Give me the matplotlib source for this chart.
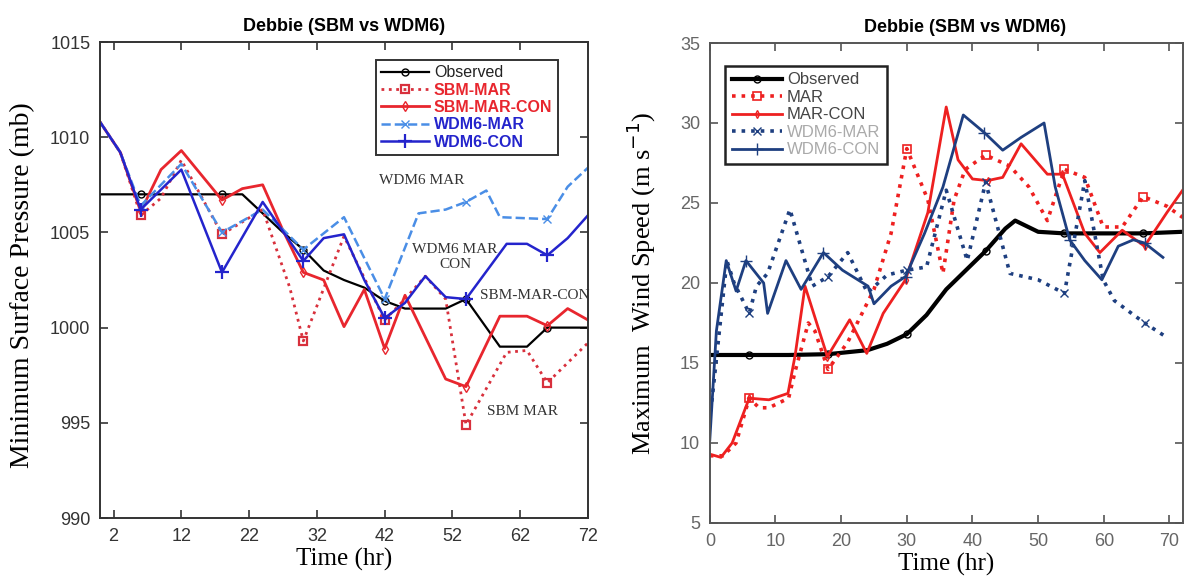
import numpy as np
import matplotlib
matplotlib.use('Agg')
import matplotlib.pyplot as plt

# ---- left panel: minimum surface pressure (mb) ----
obs_t = [0, 6, 12, 18, 21, 24, 27, 30, 33, 36, 39, 42, 45, 48, 51, 54, 59, 63, 66, 72]
obs_p = [1007, 1007, 1007, 1007, 1007, 1006, 1005, 1004.1, 1003, 1002.5, 1002.1, 1001.4,
         1001, 1001, 1001, 1001.5, 999, 999, 1000, 1000]

sbm_mar_t = [0, 3, 6, 9, 12, 18, 24, 28, 30, 36, 42, 45, 48, 51, 54, 60, 63, 66, 72]
sbm_mar_p = [1010.8, 1009.2, 1005.9, 1006.8, 1008.8, 1004.9, 1006.2, 1002.1, 999.3, 1004.8,
             1000.4, 1001.5, 1002.7, 1001.5, 994.9, 998.7, 998.8, 997.1, 999.2]

sbm_con_t = [0, 3, 6, 9, 12, 18, 21, 24, 27, 30, 33, 36, 39, 42, 45, 51, 54, 59, 63, 66, 69, 72]
sbm_con_p = [1010.8, 1009.2, 1006.1, 1008.3, 1009.3, 1006.7, 1007.3, 1007.5, 1005.1, 1002.9,
             1002.5, 1000.05, 1002.0, 998.9, 1001.7, 997.3, 996.9, 1000.6, 1000.6, 1000.1,
             1001.0, 1000.4]

wdm_mar_t = [0, 3, 6, 12, 18, 24, 30, 36, 42, 47, 51, 54, 57, 59, 66, 69, 72]
wdm_mar_p = [1010.8, 1009.2, 1006.4, 1008.6, 1005.0, 1006.2, 1004.1, 1005.8, 1001.5, 1006.0,
             1006.2, 1006.6, 1007.2, 1005.8, 1005.7, 1007.4, 1008.4]

wdm_con_t = [0, 3, 6, 12, 18, 24, 30, 33, 36, 39, 42, 45, 48, 51, 54, 60, 63, 66, 69, 72]
wdm_con_p = [1010.8, 1009.2, 1006.2, 1008.3, 1002.9, 1006.6, 1003.5, 1004.7, 1004.9, 1002.5,
             1000.5, 1001.3, 1002.7, 1001.6, 1001.5, 1004.4, 1004.4, 1003.8, 1004.7, 1005.9]

left_xticks = [2, 12, 22, 32, 42, 52, 62, 72]
left_yticks = [990, 995, 1000, 1005, 1010, 1015]

# ---- right panel: maximum wind speed (m/s) ----
wobs_t = [0, 6, 12, 18, 24, 27, 30, 33, 36, 39, 42, 45, 46.5, 48, 50, 54, 60, 66, 72]
wobs_v = [15.5, 15.5, 15.5, 15.55, 15.8, 16.2, 16.8, 18.0, 19.6, 20.8, 22.0, 23.4, 23.9,
          23.6, 23.2, 23.1, 23.1, 23.1, 23.2]

mar_t = [0, 2, 4, 6, 7.5, 9, 12, 13, 15, 16, 18, 21, 25, 27.6, 30, 33.2, 35.5, 37.2, 38.9,
         42, 45.7, 48.6, 51.4, 54, 57.1, 59.9, 62.8, 66, 69.6, 72]
mar_v = [9.2, 9.2, 10, 12.8, 12.2, 12.2, 12.8, 14.5, 17.5, 17.0, 14.6, 16.3, 19.6, 23.1,
         28.4, 25.2, 20.6, 25.2, 27.1, 28.0, 27.3, 26.0, 23.9, 27.1, 26.6, 23.5, 23.5, 25.4,
         24.8, 24.1]

marcon_t = [0, 1.7, 3.4, 6, 9, 11.9, 13, 14.5, 17.9, 21.3, 23.9, 26.4, 29.8, 33.2, 36, 37.8,
            40, 42.3, 44.6, 47.4, 51.4, 53.7, 57.1, 59.4, 62.8, 66.2, 69.6, 72]
marcon_v = [9.3, 9.1, 10, 12.8, 12.7, 13.1, 15.5, 19.8, 15.4, 17.7, 15.6, 18.1, 20.2, 24.4,
            31.0, 27.7, 26.5, 26.4, 26.6, 28.7, 26.8, 26.8, 23.1, 21.9, 23.3, 22.3, 24.4, 25.8]

wmar_t = [0, 2.6, 3.7, 6, 7.1, 8.8, 12.2, 15.6, 18, 21, 24, 27, 30, 33, 36, 39.2, 42, 45.7,
          50, 54, 57.1, 59.9, 61.6, 66.2, 69.6]
wmar_v = [11.4, 21.4, 20, 18.1, 19.8, 20.6, 24.6, 19.8, 20.4, 21.9, 19.4, 20.5, 20.8, 21,
          25.8, 21.4, 26.3, 20.6, 20.2, 19.35, 26.4, 20.2, 18.9, 17.5, 16.6]

wcon_t = [0, 1, 2.5, 4, 5.5, 8.2, 8.8, 11.6, 13.9, 17.3, 20.2, 24.1, 25, 27.6, 29.8, 32.7,
          35.5, 38.6, 41.8, 44.6, 47.4, 50.9, 52.6, 54.8, 57.1, 59.7, 62.2, 64.5, 66.2, 69]
wcon_v = [10.2, 17, 21.4, 19.5, 21.4, 20.0, 18.1, 21.4, 19.6, 21.9, 20.8, 19.8, 18.7, 19.8,
          20.4, 23.1, 26.0, 30.5, 29.4, 28.3, 29.1, 30.0, 26.0, 22.7, 21.4, 20.2, 22.3, 22.7,
          22.5, 21.6]

right_xticks = [0, 10, 20, 30, 40, 50, 60, 70]
right_yticks = [5, 10, 15, 20, 25, 30, 35]

marker_hours = [6, 18, 30, 42, 54, 66]

SERIF = 'Liberation Serif'
SANS = 'Liberation Sans'


def mark_idx(t):
    """Indices of points closest to the 12-hourly marker times."""
    t = np.asarray(t)
    return sorted({int(np.argmin(np.abs(t - h))) for h in marker_hours})


def style_axes(ax, col='#333333', labcol=None):
    for s in ax.spines.values():
        s.set_linewidth(1.4)
        s.set_color(col)
    ax.tick_params(direction='in', top=True, right=True, length=6, width=1.2,
                   colors=col, labelsize=13, pad=7)
    if labcol is not None:
        ax.tick_params(labelcolor=labcol)
    for lab in ax.get_xticklabels() + ax.get_yticklabels():
        lab.set_family(SANS)


fig = plt.figure(figsize=(11.85, 5.78), dpi=100)

# ---------------- left ----------------
ax1 = fig.add_axes([0.0844, 0.1038, 0.4118, 0.8235])
red = '#e8262e'
blue = '#2424cc'
lblue = '#4a8ee6'
ax1.plot(obs_t, obs_p, '-', color='black', lw=1.6, marker='o', ms=5, mfc='none',
         markevery=mark_idx(obs_t), label='Observed')
ax1.plot(sbm_mar_t, sbm_mar_p, ':', color='#d8303c', lw=2.0, marker='s', ms=6, mfc='none',
         mew=1.6, markevery=mark_idx(sbm_mar_t), label='SBM-MAR')
ax1.plot(sbm_con_t, sbm_con_p, '-', color=red, lw=2.0, marker='d', ms=5, mfc='none',
         markevery=mark_idx(sbm_con_t), label='SBM-MAR-CON')
ax1.plot(wdm_mar_t, wdm_mar_p, '--', color=lblue, lw=1.8, marker='x', ms=6,
         markevery=mark_idx(wdm_mar_t), label='WDM6-MAR')
ax1.plot(wdm_con_t, wdm_con_p, '-', color=blue, lw=1.8, marker='+', ms=10, mew=1.6,
         markevery=mark_idx(wdm_con_t), label='WDM6-CON')

ax1.set_xlim(0, 72)
ax1.set_ylim(990, 1015)
ax1.set_xticks(left_xticks)
ax1.set_yticks(left_yticks)
style_axes(ax1)
ax1.set_xlabel('Time (hr)', family=SERIF, fontsize=18, labelpad=2)
ax1.set_ylabel('Minimum Surface Pressure (mb)', family=SERIF, fontsize=20)
ax1.yaxis.set_label_coords(-0.133, 0.49)
ax1.set_title('Debbie (SBM vs WDM6)', family=SANS, fontsize=13, fontweight='bold', pad=8)

leg1 = ax1.legend(loc='upper right', bbox_to_anchor=(0.955, 0.98),
                  handlelength=3.0, handletextpad=0.3, borderpad=0.35, labelspacing=0.15,
                  fancybox=False, framealpha=1,
                  prop={'family': SANS, 'weight': 'bold', 'size': 11.5})
leg1.get_frame().set_edgecolor('#333333')
leg1.get_frame().set_linewidth(1.4)
for txt, c in zip(leg1.get_texts(), ['#222222', red, red, blue, blue]):
    txt.set_color(c)
leg1.get_texts()[0].set_fontweight('normal')

ann = dict(family=SERIF, fontsize=11, color='#333333')
ax1.text(47.4, 1007.75, 'WDM6 MAR', ha='center', va='center', **ann)
ax1.text(52.4, 1003.7, 'WDM6 MAR\nCON', ha='center', va='center', linespacing=1.2, **ann)
ax1.text(56.1, 1001.7, 'SBM-MAR-CON', ha='left', va='center', clip_on=False, **ann)
ax1.text(62.3, 995.6, 'SBM MAR', ha='center', va='center', **ann)

# ---------------- right ----------------
ax2 = fig.add_axes([0.599, 0.0952, 0.399, 0.8304])
navy = '#1e3f80'
red2 = '#ee2020'
ax2.plot(wobs_t, wobs_v, '-', color='black', lw=3.0, marker='o', ms=5, mfc='none', mew=1.0,
         markevery=mark_idx(wobs_t), label='Observed')
ax2.plot(mar_t, mar_v, ':', color=red2, lw=2.6, marker='s', ms=6, mfc='none', mew=1.2,
         markevery=mark_idx(mar_t), label='MAR')
ax2.plot(marcon_t, marcon_v, '-', color=red2, lw=2.0, marker='d', ms=4, mfc='none',
         markevery=mark_idx(marcon_t), label='MAR-CON')
ax2.plot(wmar_t, wmar_v, ':', color=navy, lw=2.6, marker='x', ms=6,
         markevery=mark_idx(wmar_t), label='WDM6-MAR')
ax2.plot(wcon_t, wcon_v, '-', color=navy, lw=2.0, marker='+', ms=8,
         markevery=mark_idx(wcon_t), label='WDM6-CON')

ax2.set_xlim(0, 72)
ax2.set_ylim(5, 35)
ax2.set_xticks(right_xticks)
ax2.set_yticks(right_yticks)
style_axes(ax2, col='#555555', labcol='#666666')
ax2.set_xlabel('Time (hr)', family=SERIF, fontsize=18, labelpad=2)
ax2.set_ylabel('Maximum  Wind Speed (m s$^{-1}$)', family=SERIF, fontsize=19)
ax2.yaxis.set_label_coords(-0.11, 0.5)
ax2.set_title('Debbie (SBM vs WDM6)', family=SANS, fontsize=13, fontweight='bold', pad=8,
              x=0.54)

leg2 = ax2.legend(loc='upper left', bbox_to_anchor=(0.015, 0.97), handlelength=3.0,
                  handletextpad=0.3, borderpad=0.4, labelspacing=0.15, fancybox=False,
                  framealpha=1, prop={'family': SANS, 'size': 12})
leg2.get_frame().set_edgecolor('#222222')
leg2.get_frame().set_linewidth(1.8)
for txt, c in zip(leg2.get_texts(), ['#444444', '#444444', '#444444', '#aaaaaa', '#aaaaaa']):
    txt.set_color(c)

fig.savefig('out.png', dpi=100)
